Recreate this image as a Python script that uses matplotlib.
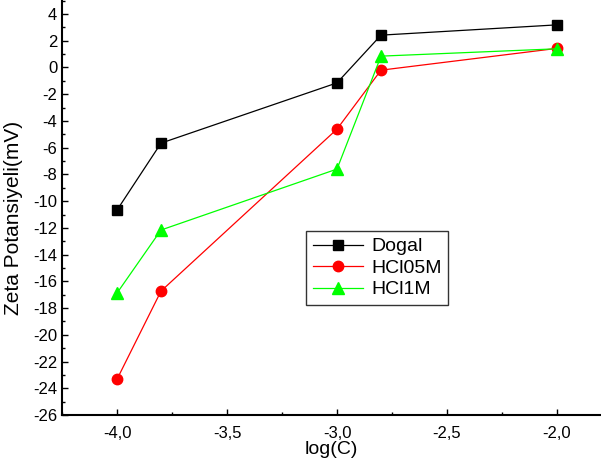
import matplotlib
matplotlib.use("Agg")
import matplotlib.pyplot as plt
from matplotlib.ticker import MultipleLocator, FuncFormatter

plt.rcParams['font.family'] = ['Liberation Sans', 'DejaVu Sans']

log_c = [-4.0, -3.8, -3.0, -2.8, -2.0]
dogal = [-10.67, -5.66, -1.15, 2.42, 3.19]
hcl05m = [-23.33, -16.73, -4.61, -0.2, 1.43]
hcl1m = [-16.88, -12.16, -7.6, 0.85, 1.4]

fig = plt.figure(figsize=(6.01, 4.67), dpi=100)
ax = fig.add_axes([62 / 601, 1 - 415 / 467, 1 - 62 / 601, 415 / 467])

ax.plot(log_c, dogal, color='black', lw=0.9, marker='s', ms=6.5, label='Dogal')
ax.plot(log_c, hcl05m, color='#ff0000', lw=0.9, marker='o', ms=7.5, label='HCl05M')
ax.plot(log_c, hcl1m, color='#00ff00', lw=0.9, marker='^', ms=8, label='HCl1M')

ax.set_xlim(-4.25, -1.8)
ax.set_ylim(-26, 5.05)
ax.spines['top'].set_visible(False)
ax.spines['right'].set_visible(False)
for s in ('left', 'bottom'):
    ax.spines[s].set_linewidth(1.5)

ax.xaxis.set_major_locator(MultipleLocator(0.5))
ax.xaxis.set_minor_locator(MultipleLocator(0.25))
ax.yaxis.set_major_locator(MultipleLocator(2))
ax.yaxis.set_minor_locator(MultipleLocator(1))
ax.xaxis.set_major_formatter(FuncFormatter(lambda v, p: f"{v:.1f}".replace('.', ',')))
ax.yaxis.set_major_formatter(FuncFormatter(lambda v, p: f"{v:.0f}"))
ax.tick_params(which='both', direction='in', labelsize=12, width=1)
ax.tick_params(which='major', length=4)
ax.tick_params(which='minor', length=2)
ax.tick_params(axis='x', pad=8)

ax.set_xlabel('log(C)', fontsize=14, labelpad=0)
ax.set_ylabel('Zeta Potansiyeli(mV)', fontsize=15)
ax.yaxis.set_label_coords(-0.072, 0.475)

leg = ax.legend(loc='upper left', bbox_to_anchor=(306 / 601, 1 - 231 / 467),
                bbox_transform=fig.transFigure, borderaxespad=0, fontsize=14,
                frameon=True, fancybox=False, edgecolor='black',
                handlelength=2.6, borderpad=0.35, labelspacing=0.2,
                handletextpad=0.4)
leg.get_frame().set_linewidth(1.0)

fig.savefig('out.png', dpi=100)
